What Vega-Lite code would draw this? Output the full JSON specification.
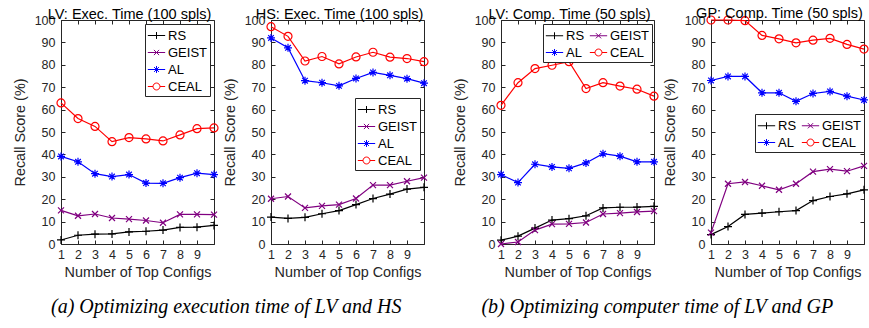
{
  "$schema": "https://vega.github.io/schema/vega-lite/v6.json",
  "padding": {"left": 11, "top": 5, "right": 2, "bottom": 2},
  "background": "white",
  "datasets": {
    "p1": [
      {"s":"RS","k":1,"v":1.8},{"s":"RS","k":2,"v":3.9},{"s":"RS","k":3,"v":4.4},{"s":"RS","k":4,"v":4.5},{"s":"RS","k":5,"v":5.4},{"s":"RS","k":6,"v":5.7},{"s":"RS","k":7,"v":6.2},{"s":"RS","k":8,"v":7.4},{"s":"RS","k":9,"v":7.5},{"s":"RS","k":10,"v":8.3},
      {"s":"GEIST","k":1,"v":15},{"s":"GEIST","k":2,"v":12.6},{"s":"GEIST","k":3,"v":13.4},{"s":"GEIST","k":4,"v":11.6},{"s":"GEIST","k":5,"v":11.1},{"s":"GEIST","k":6,"v":10.5},{"s":"GEIST","k":7,"v":9.5},{"s":"GEIST","k":8,"v":13.2},{"s":"GEIST","k":9,"v":13.2},{"s":"GEIST","k":10,"v":13.1},
      {"s":"AL","k":1,"v":39.1},{"s":"AL","k":2,"v":36.7},{"s":"AL","k":3,"v":31.4},{"s":"AL","k":4,"v":30.1},{"s":"AL","k":5,"v":31},{"s":"AL","k":6,"v":27.2},{"s":"AL","k":7,"v":27.1},{"s":"AL","k":8,"v":29.6},{"s":"AL","k":9,"v":31.6},{"s":"AL","k":10,"v":31},
      {"s":"CEAL","k":1,"v":63},{"s":"CEAL","k":2,"v":56},{"s":"CEAL","k":3,"v":52.5},{"s":"CEAL","k":4,"v":45.7},{"s":"CEAL","k":5,"v":47.5},{"s":"CEAL","k":6,"v":46.9},{"s":"CEAL","k":7,"v":46},{"s":"CEAL","k":8,"v":48.7},{"s":"CEAL","k":9,"v":51.5},{"s":"CEAL","k":10,"v":51.8}
    ],
    "p2": [
      {"s":"RS","k":1,"v":12},{"s":"RS","k":2,"v":11.4},{"s":"RS","k":3,"v":11.9},{"s":"RS","k":4,"v":13.5},{"s":"RS","k":5,"v":14.9},{"s":"RS","k":6,"v":17.6},{"s":"RS","k":7,"v":20.3},{"s":"RS","k":8,"v":22.3},{"s":"RS","k":9,"v":24.5},{"s":"RS","k":10,"v":25.3},
      {"s":"GEIST","k":1,"v":20.2},{"s":"GEIST","k":2,"v":21.2},{"s":"GEIST","k":3,"v":16.1},{"s":"GEIST","k":4,"v":17},{"s":"GEIST","k":5,"v":17.6},{"s":"GEIST","k":6,"v":20.3},{"s":"GEIST","k":7,"v":26.3},{"s":"GEIST","k":8,"v":26.3},{"s":"GEIST","k":9,"v":28},{"s":"GEIST","k":10,"v":29.6},
      {"s":"AL","k":1,"v":92},{"s":"AL","k":2,"v":87.6},{"s":"AL","k":3,"v":72.9},{"s":"AL","k":4,"v":72},{"s":"AL","k":5,"v":70.6},{"s":"AL","k":6,"v":73.9},{"s":"AL","k":7,"v":76.6},{"s":"AL","k":8,"v":75.3},{"s":"AL","k":9,"v":73.8},{"s":"AL","k":10,"v":71.8},
      {"s":"CEAL","k":1,"v":97},{"s":"CEAL","k":2,"v":92.7},{"s":"CEAL","k":3,"v":81.7},{"s":"CEAL","k":4,"v":83.7},{"s":"CEAL","k":5,"v":80.4},{"s":"CEAL","k":6,"v":83.5},{"s":"CEAL","k":7,"v":85.6},{"s":"CEAL","k":8,"v":83.4},{"s":"CEAL","k":9,"v":82.8},{"s":"CEAL","k":10,"v":81.4}
    ],
    "p3": [
      {"s":"RS","k":1,"v":1.7},{"s":"RS","k":2,"v":3.5},{"s":"RS","k":3,"v":7.1},{"s":"RS","k":4,"v":10.7},{"s":"RS","k":5,"v":11.3},{"s":"RS","k":6,"v":12.6},{"s":"RS","k":7,"v":16.1},{"s":"RS","k":8,"v":16.4},{"s":"RS","k":9,"v":16.5},{"s":"RS","k":10,"v":16.8},
      {"s":"GEIST","k":1,"v":0},{"s":"GEIST","k":2,"v":0.9},{"s":"GEIST","k":3,"v":6.2},{"s":"GEIST","k":4,"v":8.9},{"s":"GEIST","k":5,"v":9},{"s":"GEIST","k":6,"v":9.6},{"s":"GEIST","k":7,"v":13.4},{"s":"GEIST","k":8,"v":13.8},{"s":"GEIST","k":9,"v":14.3},{"s":"GEIST","k":10,"v":14.7},
      {"s":"AL","k":1,"v":31},{"s":"AL","k":2,"v":27.4},{"s":"AL","k":3,"v":35.6},{"s":"AL","k":4,"v":34.4},{"s":"AL","k":5,"v":33.8},{"s":"AL","k":6,"v":36.2},{"s":"AL","k":7,"v":40.3},{"s":"AL","k":8,"v":39.2},{"s":"AL","k":9,"v":36.7},{"s":"AL","k":10,"v":36.7},
      {"s":"CEAL","k":1,"v":61.9},{"s":"CEAL","k":2,"v":72},{"s":"CEAL","k":3,"v":78.3},{"s":"CEAL","k":4,"v":79.8},{"s":"CEAL","k":5,"v":81.4},{"s":"CEAL","k":6,"v":69.4},{"s":"CEAL","k":7,"v":72},{"s":"CEAL","k":8,"v":70.5},{"s":"CEAL","k":9,"v":69.1},{"s":"CEAL","k":10,"v":66}
    ],
    "p4": [
      {"s":"RS","k":1,"v":4.2},{"s":"RS","k":2,"v":7.8},{"s":"RS","k":3,"v":13.2},{"s":"RS","k":4,"v":13.8},{"s":"RS","k":5,"v":14.4},{"s":"RS","k":6,"v":14.9},{"s":"RS","k":7,"v":19.4},{"s":"RS","k":8,"v":21.2},{"s":"RS","k":9,"v":22.4},{"s":"RS","k":10,"v":24.2},
      {"s":"GEIST","k":1,"v":5.1},{"s":"GEIST","k":2,"v":26.9},{"s":"GEIST","k":3,"v":27.7},{"s":"GEIST","k":4,"v":26},{"s":"GEIST","k":5,"v":24.2},{"s":"GEIST","k":6,"v":26.9},{"s":"GEIST","k":7,"v":32.3},{"s":"GEIST","k":8,"v":33.4},{"s":"GEIST","k":9,"v":32.5},{"s":"GEIST","k":10,"v":34.9},
      {"s":"AL","k":1,"v":73},{"s":"AL","k":2,"v":74.8},{"s":"AL","k":3,"v":74.8},{"s":"AL","k":4,"v":67.5},{"s":"AL","k":5,"v":67.5},{"s":"AL","k":6,"v":63.7},{"s":"AL","k":7,"v":67.2},{"s":"AL","k":8,"v":68.1},{"s":"AL","k":9,"v":66},{"s":"AL","k":10,"v":64.3},
      {"s":"CEAL","k":1,"v":100},{"s":"CEAL","k":2,"v":100},{"s":"CEAL","k":3,"v":99.7},{"s":"CEAL","k":4,"v":93.1},{"s":"CEAL","k":5,"v":91.6},{"s":"CEAL","k":6,"v":89.8},{"s":"CEAL","k":7,"v":91},{"s":"CEAL","k":8,"v":91.8},{"s":"CEAL","k":9,"v":89.1},{"s":"CEAL","k":10,"v":87}
    ]
  },
  "spacing": 20,
  "hconcat": [
    {
      "spacing": 0,
      "title": {"text": "(a) Optimizing execution time of LV and HS", "orient": "bottom", "anchor": "middle", "font": "Liberation Serif", "fontStyle": "italic", "fontSize": 20, "fontWeight": "normal", "color": "#000", "offset": 18, "dx": 5},
      "resolve": {"legend": {"color": "independent", "shape": "independent"}},
      "hconcat": [
        {
          "width": 153, "height": 224,
          "title": {"text": "LV: Exec. Time (100 spls)", "dx": -8},
          "data": {"name": "p1"},
          "resolve": {"scale": {"shape": "independent", "color": "independent"}, "axis": {"x": "independent", "y": "independent"}, "legend": {"color": "independent", "shape": "independent"}},
          "layer": [
            {"mark": {"type": "line", "strokeWidth": 1.2},
             "encoding": {
               "x": {"field": "k", "type": "quantitative", "scale": {"domain": [1, 10], "nice": false, "zero": false}, "axis": {"values": [1,2,3,4,5,6,7,8,9], "title": "Number of Top Configs"}},
               "y": {"field": "v", "type": "quantitative", "scale": {"domain": [0, 100], "nice": false}, "axis": {"values": [0,10,20,30,40,50,60,70,80,90,100], "title": "Recall Score (%)"}},
               "color": {"field": "s", "type": "nominal", "scale": {"domain": ["RS","GEIST","AL","CEAL"], "range": ["#000000","#800080","#0000ff","#ff0000"]}, "legend": null}}},
            {"mark": {"type": "point", "filled": false, "size": 64, "strokeWidth": 1.2, "opacity": 1},
             "encoding": {
               "x": {"field": "k", "type": "quantitative", "axis": null},
               "y": {"field": "v", "type": "quantitative", "axis": null},
               "color": {"field": "s", "type": "nominal", "scale": {"domain": ["RS","GEIST","AL","CEAL"], "range": ["#000000","#800080","#0000ff","#ff0000"]}, "legend": null},
               "shape": {"field": "s", "type": "nominal", "scale": {"domain": ["RS","GEIST","AL","CEAL"], "range": ["M-1,0L1,0M0,-1L0,1","M-0.75,-0.75L0.75,0.75M-0.75,0.75L0.75,-0.75","M-1,0L1,0M0,-1L0,1M-0.7,-0.7L0.7,0.7M-0.7,0.7L0.7,-0.7","circle"]}, "legend": null}}},
            {"transform": [{"filter": "false"}],
             "mark": {"type": "point", "filled": false, "size": 300, "strokeWidth": 1, "opacity": 1},
             "encoding": {
               "x": {"field": "k", "type": "quantitative", "axis": {"orient": "top", "labels": false, "title": null, "domain": false, "labelPadding": 0, "values": [1,2,3,4,5,6,7,8,9]}},
               "y": {"field": "v", "type": "quantitative", "axis": {"orient": "right", "labels": false, "title": null, "domain": false, "labelPadding": 0, "values": [0,10,20,30,40,50,60,70,80,90,100]}},
               "color": {"field": "s", "type": "nominal", "scale": {"domain": ["RS","GEIST","AL","CEAL"], "range": ["#000000","#800080","#0000ff","#ff0000"]}, "legend": {"title": null, "orient": "none", "legendX": 84, "legendY": 4}},
               "shape": {"field": "s", "type": "nominal", "scale": {"domain": ["RS","GEIST","AL","CEAL"], "range": ["M-1,0L1,0M0,-0.4L0,0.4","M-1,0L1,0M-0.3,-0.3L0.3,0.3M-0.3,0.3L0.3,-0.3","M-1,0L1,0M0,-0.4L0,0.4M-0.28,-0.28L0.28,0.28M-0.28,0.28L0.28,-0.28","M-1,0L-0.4,0M0.4,0L1,0M0.4,0A0.4,0.4,0,1,1,-0.4,0A0.4,0.4,0,1,1,0.4,0"]}, "legend": {"title": null, "orient": "none", "legendX": 84, "legendY": 4}}}}
          ]
        },
        {
          "width": 153, "height": 224,
          "title": {"text": "HS: Exec. Time (100 spls)", "dx": -8},
          "data": {"name": "p2"},
          "resolve": {"scale": {"shape": "independent", "color": "independent"}, "axis": {"x": "independent", "y": "independent"}, "legend": {"color": "independent", "shape": "independent"}},
          "layer": [
            {"mark": {"type": "line", "strokeWidth": 1.2},
             "encoding": {
               "x": {"field": "k", "type": "quantitative", "scale": {"domain": [1, 10], "nice": false, "zero": false}, "axis": {"values": [1,2,3,4,5,6,7,8,9], "title": "Number of Top Configs"}},
               "y": {"field": "v", "type": "quantitative", "scale": {"domain": [0, 100], "nice": false}, "axis": {"values": [0,10,20,30,40,50,60,70,80,90,100], "title": "Recall Score (%)"}},
               "color": {"field": "s", "type": "nominal", "scale": {"domain": ["RS","GEIST","AL","CEAL"], "range": ["#000000","#800080","#0000ff","#ff0000"]}, "legend": null}}},
            {"mark": {"type": "point", "filled": false, "size": 64, "strokeWidth": 1.2, "opacity": 1},
             "encoding": {
               "x": {"field": "k", "type": "quantitative", "axis": null},
               "y": {"field": "v", "type": "quantitative", "axis": null},
               "color": {"field": "s", "type": "nominal", "scale": {"domain": ["RS","GEIST","AL","CEAL"], "range": ["#000000","#800080","#0000ff","#ff0000"]}, "legend": null},
               "shape": {"field": "s", "type": "nominal", "scale": {"domain": ["RS","GEIST","AL","CEAL"], "range": ["M-1,0L1,0M0,-1L0,1","M-0.75,-0.75L0.75,0.75M-0.75,0.75L0.75,-0.75","M-1,0L1,0M0,-1L0,1M-0.7,-0.7L0.7,0.7M-0.7,0.7L0.7,-0.7","circle"]}, "legend": null}}},
            {"transform": [{"filter": "false"}],
             "mark": {"type": "point", "filled": false, "size": 300, "strokeWidth": 1, "opacity": 1},
             "encoding": {
               "x": {"field": "k", "type": "quantitative", "axis": {"orient": "top", "labels": false, "title": null, "domain": false, "labelPadding": 0, "values": [1,2,3,4,5,6,7,8,9]}},
               "y": {"field": "v", "type": "quantitative", "axis": {"orient": "right", "labels": false, "title": null, "domain": false, "labelPadding": 0, "values": [0,10,20,30,40,50,60,70,80,90,100]}},
               "color": {"field": "s", "type": "nominal", "scale": {"domain": ["RS","GEIST","AL","CEAL"], "range": ["#000000","#800080","#0000ff","#ff0000"]}, "legend": {"title": null, "orient": "none", "legendX": 84, "legendY": 78}},
               "shape": {"field": "s", "type": "nominal", "scale": {"domain": ["RS","GEIST","AL","CEAL"], "range": ["M-1,0L1,0M0,-0.4L0,0.4","M-1,0L1,0M-0.3,-0.3L0.3,0.3M-0.3,0.3L0.3,-0.3","M-1,0L1,0M0,-0.4L0,0.4M-0.28,-0.28L0.28,0.28M-0.28,0.28L0.28,-0.28","M-1,0L-0.4,0M0.4,0L1,0M0.4,0A0.4,0.4,0,1,1,-0.4,0A0.4,0.4,0,1,1,0.4,0"]}, "legend": {"title": null, "orient": "none", "legendX": 84, "legendY": 78}}}}
          ]
        }
      ]
    },
    {
      "spacing": 0,
      "title": {"text": "(b) Optimizing computer time of LV and GP", "orient": "bottom", "anchor": "middle", "font": "Liberation Serif", "fontStyle": "italic", "fontSize": 20, "fontWeight": "normal", "color": "#000", "offset": 18, "dx": -4},
      "resolve": {"legend": {"color": "independent", "shape": "independent"}},
      "hconcat": [
        {
          "width": 153, "height": 224,
          "title": {"text": "LV: Comp. Time (50 spls)", "dx": -8},
          "data": {"name": "p3"},
          "resolve": {"scale": {"shape": "independent", "color": "independent"}, "axis": {"x": "independent", "y": "independent"}, "legend": {"color": "independent", "shape": "independent"}},
          "layer": [
            {"mark": {"type": "line", "strokeWidth": 1.2},
             "encoding": {
               "x": {"field": "k", "type": "quantitative", "scale": {"domain": [1, 10], "nice": false, "zero": false}, "axis": {"values": [1,2,3,4,5,6,7,8,9], "title": "Number of Top Configs"}},
               "y": {"field": "v", "type": "quantitative", "scale": {"domain": [0, 100], "nice": false}, "axis": {"values": [0,10,20,30,40,50,60,70,80,90,100], "title": "Recall Score (%)"}},
               "color": {"field": "s", "type": "nominal", "scale": {"domain": ["RS","GEIST","AL","CEAL"], "range": ["#000000","#800080","#0000ff","#ff0000"]}, "legend": null}}},
            {"mark": {"type": "point", "filled": false, "size": 64, "strokeWidth": 1.2, "opacity": 1},
             "encoding": {
               "x": {"field": "k", "type": "quantitative", "axis": null},
               "y": {"field": "v", "type": "quantitative", "axis": null},
               "color": {"field": "s", "type": "nominal", "scale": {"domain": ["RS","GEIST","AL","CEAL"], "range": ["#000000","#800080","#0000ff","#ff0000"]}, "legend": null},
               "shape": {"field": "s", "type": "nominal", "scale": {"domain": ["RS","GEIST","AL","CEAL"], "range": ["M-1,0L1,0M0,-1L0,1","M-0.75,-0.75L0.75,0.75M-0.75,0.75L0.75,-0.75","M-1,0L1,0M0,-1L0,1M-0.7,-0.7L0.7,0.7M-0.7,0.7L0.7,-0.7","circle"]}, "legend": null}}},
            {"transform": [{"filter": "false"}],
             "mark": {"type": "point", "filled": false, "size": 300, "strokeWidth": 1, "opacity": 1},
             "encoding": {
               "x": {"field": "k", "type": "quantitative", "axis": {"orient": "top", "labels": false, "title": null, "domain": false, "labelPadding": 0, "values": [1,2,3,4,5,6,7,8,9]}},
               "y": {"field": "v", "type": "quantitative", "axis": {"orient": "right", "labels": false, "title": null, "domain": false, "labelPadding": 0, "values": [0,10,20,30,40,50,60,70,80,90,100]}},
               "color": {"field": "s", "type": "nominal", "scale": {"domain": ["RS","GEIST","AL","CEAL"], "range": ["#000000","#800080","#0000ff","#ff0000"]}, "legend": {"title": null, "orient": "none", "legendX": 42, "legendY": 4, "columns": 2, "direction": "horizontal"}},
               "shape": {"field": "s", "type": "nominal", "scale": {"domain": ["RS","GEIST","AL","CEAL"], "range": ["M-1,0L1,0M0,-0.4L0,0.4","M-1,0L1,0M-0.3,-0.3L0.3,0.3M-0.3,0.3L0.3,-0.3","M-1,0L1,0M0,-0.4L0,0.4M-0.28,-0.28L0.28,0.28M-0.28,0.28L0.28,-0.28","M-1,0L-0.4,0M0.4,0L1,0M0.4,0A0.4,0.4,0,1,1,-0.4,0A0.4,0.4,0,1,1,0.4,0"]}, "legend": {"title": null, "orient": "none", "legendX": 42, "legendY": 4, "columns": 2, "direction": "horizontal"}}}}
          ]
        },
        {
          "width": 153, "height": 224,
          "title": {"text": "GP: Comp. Time (50 spls)", "dx": -8},
          "data": {"name": "p4"},
          "resolve": {"scale": {"shape": "independent", "color": "independent"}, "axis": {"x": "independent", "y": "independent"}, "legend": {"color": "independent", "shape": "independent"}},
          "layer": [
            {"mark": {"type": "line", "strokeWidth": 1.2},
             "encoding": {
               "x": {"field": "k", "type": "quantitative", "scale": {"domain": [1, 10], "nice": false, "zero": false}, "axis": {"values": [1,2,3,4,5,6,7,8,9], "title": "Number of Top Configs"}},
               "y": {"field": "v", "type": "quantitative", "scale": {"domain": [0, 100], "nice": false}, "axis": {"values": [0,10,20,30,40,50,60,70,80,90,100], "title": "Recall Score (%)"}},
               "color": {"field": "s", "type": "nominal", "scale": {"domain": ["RS","GEIST","AL","CEAL"], "range": ["#000000","#800080","#0000ff","#ff0000"]}, "legend": null}}},
            {"mark": {"type": "point", "filled": false, "size": 64, "strokeWidth": 1.2, "opacity": 1},
             "encoding": {
               "x": {"field": "k", "type": "quantitative", "axis": null},
               "y": {"field": "v", "type": "quantitative", "axis": null},
               "color": {"field": "s", "type": "nominal", "scale": {"domain": ["RS","GEIST","AL","CEAL"], "range": ["#000000","#800080","#0000ff","#ff0000"]}, "legend": null},
               "shape": {"field": "s", "type": "nominal", "scale": {"domain": ["RS","GEIST","AL","CEAL"], "range": ["M-1,0L1,0M0,-1L0,1","M-0.75,-0.75L0.75,0.75M-0.75,0.75L0.75,-0.75","M-1,0L1,0M0,-1L0,1M-0.7,-0.7L0.7,0.7M-0.7,0.7L0.7,-0.7","circle"]}, "legend": null}}},
            {"transform": [{"filter": "false"}],
             "mark": {"type": "point", "filled": false, "size": 300, "strokeWidth": 1, "opacity": 1},
             "encoding": {
               "x": {"field": "k", "type": "quantitative", "axis": {"orient": "top", "labels": false, "title": null, "domain": false, "labelPadding": 0, "values": [1,2,3,4,5,6,7,8,9]}},
               "y": {"field": "v", "type": "quantitative", "axis": {"orient": "right", "labels": false, "title": null, "domain": false, "labelPadding": 0, "values": [0,10,20,30,40,50,60,70,80,90,100]}},
               "color": {"field": "s", "type": "nominal", "scale": {"domain": ["RS","GEIST","AL","CEAL"], "range": ["#000000","#800080","#0000ff","#ff0000"]}, "legend": {"title": null, "orient": "none", "legendX": 44, "legendY": 94, "columns": 2, "direction": "horizontal"}},
               "shape": {"field": "s", "type": "nominal", "scale": {"domain": ["RS","GEIST","AL","CEAL"], "range": ["M-1,0L1,0M0,-0.4L0,0.4","M-1,0L1,0M-0.3,-0.3L0.3,0.3M-0.3,0.3L0.3,-0.3","M-1,0L1,0M0,-0.4L0,0.4M-0.28,-0.28L0.28,0.28M-0.28,0.28L0.28,-0.28","M-1,0L-0.4,0M0.4,0L1,0M0.4,0A0.4,0.4,0,1,1,-0.4,0A0.4,0.4,0,1,1,0.4,0"]}, "legend": {"title": null, "orient": "none", "legendX": 44, "legendY": 94, "columns": 2, "direction": "horizontal"}}}}
          ]
        }
      ]
    }
  ],
  "resolve": {"legend": {"color": "independent", "shape": "independent"}},
  "config": {
    "font": "Liberation Sans",
    "view": {"stroke": "#262626", "strokeWidth": 1},
    "axis": {"grid": false, "domainColor": "#262626", "tickColor": "#262626", "labelColor": "#262626", "titleColor": "#262626", "labelFont": "Liberation Sans", "titleFont": "Liberation Sans", "labelFontSize": 12.5, "titleFontSize": 14.4, "titleFontWeight": "normal", "tickSize": -4, "labelPadding": 10, "titlePadding": 4, "labelFlush": false, "labelOverlap": false},
    "axisX": {"labelPadding": 8, "titlePadding": 5},
    "axisY": {"titlePadding": 7},
    "title": {"font": "Liberation Sans", "fontSize": 14.5, "fontWeight": "normal", "color": "#000", "offset": -8},
    "legend": {"strokeColor": "#262626", "fillColor": "white", "padding": 2, "symbolSize": 300, "symbolStrokeWidth": 1, "labelFontSize": 13, "labelColor": "#000", "labelFont": "Liberation Sans", "labelOffset": 2, "rowPadding": 0, "columnPadding": 2, "cornerRadius": 0}
  }
}
